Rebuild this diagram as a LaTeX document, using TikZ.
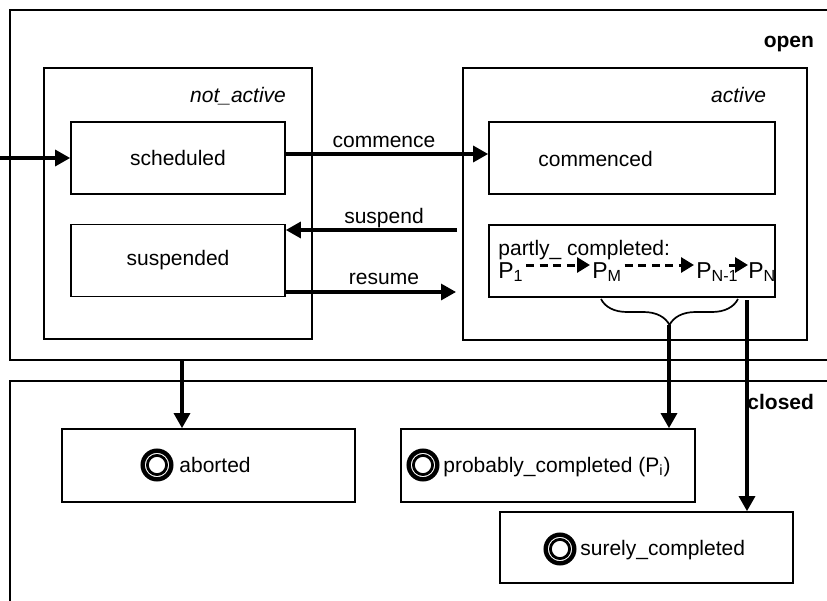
\documentclass[tikz,border=0pt]{standalone}
\usepackage{fontspec}
\setmainfont{Liberation Sans}
\usetikzlibrary{arrows.meta,decorations.pathreplacing}
\def\lab{\fontsize{10.5}{12.6}\selectfont}
\def\plab{\fontsize{11.5}{13.8}\selectfont}
\def\finalstate(#1){\draw[line width=2.2pt] (#1) circle (7.15pt); \draw[line width=1.4pt] (#1) circle (4.8pt);}

\begin{document}
\begin{tikzpicture}[x=0.5pt,y=-0.5pt,
		every node/.style={font=\lab},
		zone/.style={draw,line width=1pt,inner sep=0pt},
		group/.style={draw,line width=0.85pt,inner sep=0pt},
		statebox/.style={draw,line width=0.85pt,inner sep=0pt,minimum width=107pt,minimum height=36pt},
		endbox/.style={draw,line width=0.85pt,inner sep=0pt,minimum width=146.5pt,minimum height=36.5pt},
		flow/.style={line width=1.6pt,-{Triangle[length=7.5pt,width=8pt]}},
		pstep/.style={anchor=base west,inner sep=0pt,font=\plab},
		chain/.style={line width=1.5pt,dash pattern=on 4pt off 2.8pt,-{Triangle[length=6.5pt,width=7.5pt]}}]
	%%%%% START %%%%%
	\path[use as bounding box] (0,0) rectangle (827,601);
	\clip (0,0) rectangle (827,601);
	
	\node[zone,minimum width=421pt,minimum height=175pt] (openzone) at (430.5,184.5) {};
	\node[zone,minimum width=421pt,minimum height=120pt] (closedzone) at (430.5,501) {};
	\node[font=\lab\bfseries,anchor=base east] (opentitle) at (821,47) {open};
	\node[font=\lab\bfseries,anchor=base east] (closedtitle) at (821,409) {closed};
	
	\node[group,minimum width=134pt,minimum height=135.5pt] (notactive) at (178,203.5) {};
	\node[group,minimum width=172pt,minimum height=136pt] (active) at (635,204) {};
	\node[font=\lab\itshape,anchor=base east] (notactivetitle) at (293,102) {not\_active};
	\node[font=\lab\itshape,anchor=base east] (activetitle) at (773,102) {active};
	
	\node[statebox] (scheduled) at (178,158) {scheduled};
	\node[statebox] (suspended) at (178,260.5) {suspended};
	\node[statebox,minimum width=143pt] (commenced) at (632,158) {};
	\node[anchor=base west,inner sep=0pt] (commencedtext) at (538,166) {commenced};
	
	\node[statebox,minimum width=143pt] (partly) at (632,261) {};
	\node[anchor=base west,inner sep=0pt] (partlytext) at (498,255) {partly\_ completed:};
	\node[pstep] (p1) at (498,278) {P\textsubscript{1}};
	\node[pstep] (pm) at (592,278) {P\textsubscript{M}};
	\node[pstep] (pn1) at (696,278) {P\textsubscript{N-1}};
	\node[pstep] (pn) at (748,278) {P\textsubscript{N}};
	\draw[chain] ([xshift=1pt,yshift=6.5pt]p1.base east) -- ([xshift=-1pt,yshift=6.5pt]pm.base west);
	\draw[chain] ([xshift=1pt,yshift=6.5pt]pm.base east) -- ([xshift=-1pt,yshift=6.5pt]pn1.base west);
	\draw[line width=1.5pt,-{Triangle[length=6.5pt,width=7.5pt]}] ([xshift=-5pt,yshift=6.5pt]pn1.base east) -- ([yshift=6.5pt]pn.base west);
	
	% entry and transitions
	\coordinate (entry) at (0,158);
	\draw[flow] (entry) -- (scheduled.west);
	\draw[flow] ([yshift=2pt]scheduled.east) -- ([yshift=2pt]commenced.west);
	\coordinate (suspendfrom) at (457,230);
	\draw[flow] (suspendfrom) -- (suspended.east |- suspendfrom);
	\coordinate (resumeto) at (456,292);
	\draw[flow] (suspended.east |- resumeto) -- (resumeto);
	\node[anchor=base] (commencelbl) at (384,147) {commence};
	\node[anchor=base] (suspendlbl) at (384,223) {suspend};
	\node[anchor=base] (resumelbl) at (384,284) {resume};
	
	% final states
	\node[endbox] (aborted) at (208.5,465.5) {};
	\node[endbox,minimum width=147pt] (probably) at (548,465.5) {};
	\node[endbox,minimum height=35.5pt] (surely) at (646.5,547.5) {};
	\coordinate (abortedring) at (157,465);
	\coordinate (probablyring) at (423,465);
	\coordinate (surelyring) at (560,549);
	\finalstate(abortedring)
	\finalstate(probablyring)
	\finalstate(surelyring)
	\node[anchor=base west,inner sep=0pt] (abortedtext) at (179,472) {aborted};
	\node[anchor=base west,inner sep=0pt] (probablytext) at (443,472) {probably\_completed (P\textsubscript{i})};
	\node[anchor=base west,inner sep=0pt] (surelytext) at (580,555) {surely\_completed};
	
	\draw[flow] ([xshift=-13.25pt]aborted.north |- openzone.south) -- ([xshift=-13.25pt]aborted.north);
	
	\coordinate (bracel) at (601,299);
	\coordinate (bracer) at (738,299);
	\draw[decorate,decoration={brace,mirror,amplitude=13pt},line width=0.85pt] (bracel) -- (bracer);
	\coordinate (bracetip) at (669,325);
	\draw[flow] (bracetip) -- (bracetip |- probably.north);
	\coordinate (pnfoot) at (747,300);
	\draw[flow] (pnfoot) -- (pnfoot |- surely.north);
	%%%%% END %%%%%
\end{tikzpicture}
\end{document}
